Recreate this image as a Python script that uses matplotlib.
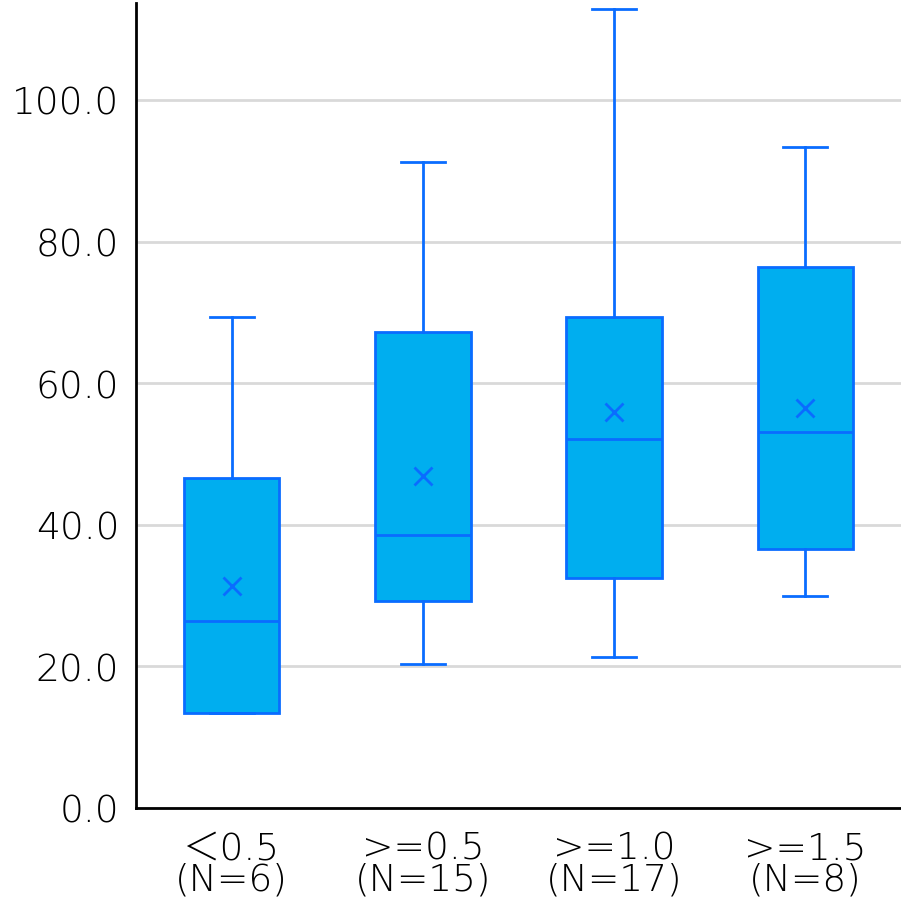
import matplotlib
matplotlib.use("Agg")
import matplotlib.pyplot as plt

plt.rcParams['font.family'] = ['DejaVu Sans', 'Noto Sans CJK JP']

# box statistics
labels = ['＜0.5\n(N=6)', '>=0.5\n(N=15)', '>=1.0\n(N=17)', '>=1.5\n(N=8)']
whislo = [13.4, 20.3, 21.3, 29.9]
q1 = [13.4, 29.2, 32.5, 36.6]
med = [26.4, 38.6, 52.1, 53.1]
q3 = [46.6, 67.2, 69.3, 76.4]
whishi = [69.3, 91.2, 112.9, 93.4]
means = [31.4, 46.9, 55.9, 56.5]

stats = []
for i in range(len(labels)):
    stats.append({'whislo': whislo[i], 'q1': q1[i], 'med': med[i], 'q3': q3[i],
                  'whishi': whishi[i], 'mean': means[i], 'fliers': [], 'label': labels[i]})

edge = '#0A6CFF'
fill = '#00AEEF'

fig = plt.figure(figsize=(9.01, 9.04), dpi=100)
ax = fig.add_axes([136 / 901, 1 - 809 / 904, 1 - 136 / 901, (809 - 4) / 904])

ax.bxp(stats, positions=range(len(labels)), widths=0.5, patch_artist=True,
       showmeans=True, showfliers=False,
       boxprops=dict(facecolor=fill, edgecolor=edge, linewidth=2),
       medianprops=dict(color=edge, linewidth=2),
       whiskerprops=dict(color=edge, linewidth=2),
       capprops=dict(color=edge, linewidth=2),
       capwidths=0.23,
       meanprops=dict(marker='x', markeredgecolor=edge, markersize=13, markeredgewidth=2))

ax.set_xlim(-0.5, 3.5)
ax.set_ylim(0, 113.7)
ax.set_yticks([0, 20, 40, 60, 80, 100])
ax.set_yticklabels(['0.0', '20.0', '40.0', '60.0', '80.0', '100.0'])
ax.yaxis.grid(True, color='#d9d9d9', linewidth=2)
ax.set_axisbelow(True)
ax.tick_params(length=0, labelsize=27)
ax.tick_params(axis='y', pad=12)
ax.tick_params(axis='x', pad=16)
for t in ax.get_xticklabels() + ax.get_yticklabels():
    t.set_fontweight('light')
for t in ax.get_xticklabels():
    t.set_linespacing(0.85)
ax.spines['top'].set_visible(False)
ax.spines['right'].set_visible(False)
ax.spines['left'].set_linewidth(2)
ax.spines['bottom'].set_linewidth(2)

fig.savefig('out.png', dpi=100)
